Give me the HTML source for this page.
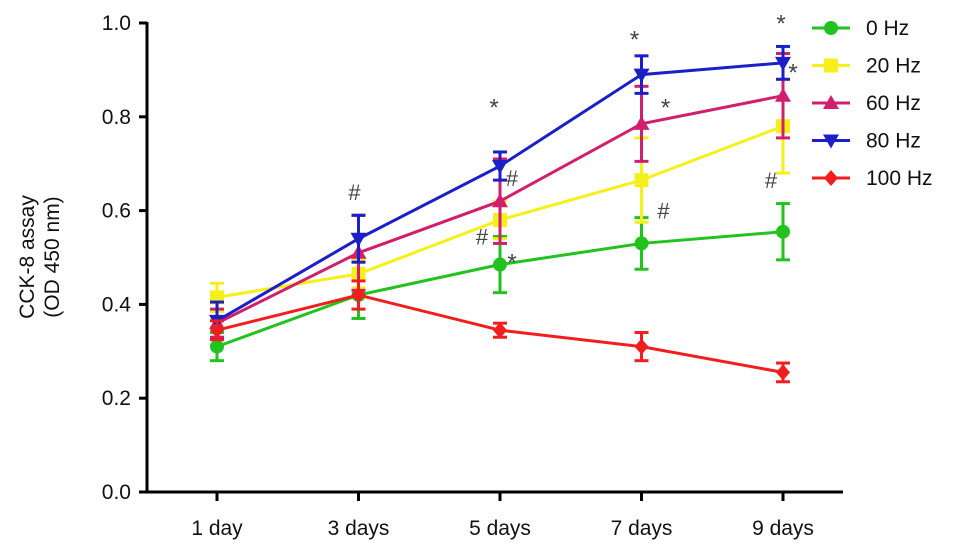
<!DOCTYPE html>
<html><head><meta charset="utf-8"><style>
html,body{margin:0;padding:0;background:#fff;}
svg{display:block;font-family:"Liberation Sans",Arial,sans-serif;}
</style></head><body>
<svg id="chart" width="969" height="557" viewBox="0 0 969 557"></svg>
<script>
const categories=["1 day","3 days","5 days","7 days","9 days"];
const seriesNames=["0 Hz","20 Hz","60 Hz","80 Hz","100 Hz"];
const s0=[0.31,0.42,0.485,0.53,0.555];
const s20=[0.415,0.465,0.58,0.665,0.78];
const s60=[0.36,0.51,0.62,0.785,0.845];
const s80=[0.365,0.54,0.695,0.89,0.915];
const s100=[0.345,0.42,0.345,0.31,0.255];
const e0=[0.03,0.05,0.06,0.055,0.06];
const e20=[0.03,0.03,0.04,0.09,0.1];
const e60=[0.03,0.08,0.09,0.08,0.09];
const e80=[0.04,0.05,0.03,0.04,0.035];
const e100=[0.02,0.03,0.015,0.03,0.02];
const yTicks=[0,0.2,0.4,0.6,0.8,1.0];
const annText=["#","*","#","#","*","*","*","#","*","*","#"];
const annCat=[1,2,2,2,2,3,3,3,4,4,4];
const annVal=[0.64,0.83,0.67,0.545,0.5,0.975,0.83,0.6,1.01,0.905,0.665];
const annDx=[-4,-6,12,-18,12,-7,24,22,-2,10,-12];

const svg=document.getElementById('chart');
const NS='http://www.w3.org/2000/svg';
const x0=217,dx=141.5;
const X=i=>x0+i*dx;
const Y=v=>492-v*469;
function mk(t,a,p){const e=document.createElementNS(NS,t);for(const k in a)e.setAttribute(k,a[k]);(p||svg).appendChild(e);return e;}
const colors=["#22c31e","#f6f01a","#d11f6e","#1a1fc8","#f21d1d"];
const data=[s0,s20,s60,s80,s100];
const errs=[e0,e20,e60,e80,e100];

const ax=mk('g',{});


mk('line',{x1:147,y1:22,x2:147,y2:493,stroke:'#000','stroke-width':3},ax);
mk('line',{x1:146,y1:492,x2:843,y2:492,stroke:'#000','stroke-width':3},ax);
yTicks.forEach(t=>{
  mk('line',{x1:139,y1:Y(t),x2:147,y2:Y(t),stroke:'#000','stroke-width':3},ax);
  const tx=mk('text',{x:131,y:Y(t)+7,'text-anchor':'end','font-size':21,fill:'#111'},ax);
  tx.textContent=t.toFixed(1);
  
  
});
categories.forEach((c,i)=>{
  mk('line',{x1:X(i),y1:492,x2:X(i),y2:501,stroke:'#000','stroke-width':3},ax);
  const tx=mk('text',{x:X(i),y:535,'text-anchor':'middle','font-size':21,fill:'#111'},ax);
  tx.textContent=c;
  
  
});
const yt=mk('text',{transform:'translate(34,257) rotate(-90)','text-anchor':'middle','font-size':21,fill:'#111'});


const t1=mk('tspan',{x:0,dy:0},yt);t1.textContent='CCK-8 assay';
const t2=mk('tspan',{x:0,dy:25},yt);t2.textContent='(OD 450 nm)';

function marker(shape,cx,cy,col,g){
  if(shape===0) mk('circle',{cx,cy,r:7,fill:col},g);
  else if(shape===1) mk('rect',{x:cx-7,y:cy-7,width:14,height:14,fill:col},g);
  else if(shape===2) mk('polygon',{points:`${cx},${cy-8} ${cx+8},${cy+6} ${cx-8},${cy+6}`,fill:col},g);
  else if(shape===3) mk('polygon',{points:`${cx-8},${cy-6} ${cx+8},${cy-6} ${cx},${cy+8}`,fill:col},g);
  else mk('polygon',{points:`${cx},${cy-8} ${cx+7},${cy} ${cx},${cy+8} ${cx-7},${cy}`,fill:col},g);
}
data.forEach((d,s)=>{
  const g=mk('g',{});
  
  
  const col=colors[s];
  d.forEach((v,i)=>{
    const e=errs[s][i];
    mk('line',{x1:X(i),y1:Y(v+e),x2:X(i),y2:Y(v-e),stroke:col,'stroke-width':3},g);
    mk('line',{x1:X(i)-7,y1:Y(v+e),x2:X(i)+7,y2:Y(v+e),stroke:col,'stroke-width':3},g);
    mk('line',{x1:X(i)-7,y1:Y(v-e),x2:X(i)+7,y2:Y(v-e),stroke:col,'stroke-width':3},g);
  });
  mk('polyline',{points:d.map((v,i)=>X(i)+','+Y(v)).join(' '),fill:'none',stroke:col,'stroke-width':3},g);
  d.forEach((v,i)=>marker(s,X(i),Y(v),col,g));
  const ly=28+s*37.5;
  const lg=mk('g',{});
  
  
  mk('line',{x1:812,y1:ly,x2:850,y2:ly,stroke:col,'stroke-width':3},lg);
  marker(s,831,ly,col,lg);
  const lt=mk('text',{x:866,y:ly+7,'font-size':21,fill:'#111'},lg);
  lt.textContent=seriesNames[s];
});
annText.forEach((a,k)=>{
  const t=mk('text',{x:X(annCat[k])+annDx[k],y:Y(annVal[k])+(a==='*'?13:8),'text-anchor':'middle','font-size':a==='*'?24:22,fill:'#444'});
  t.textContent=a;
  
  
});
</script>
</body></html>
